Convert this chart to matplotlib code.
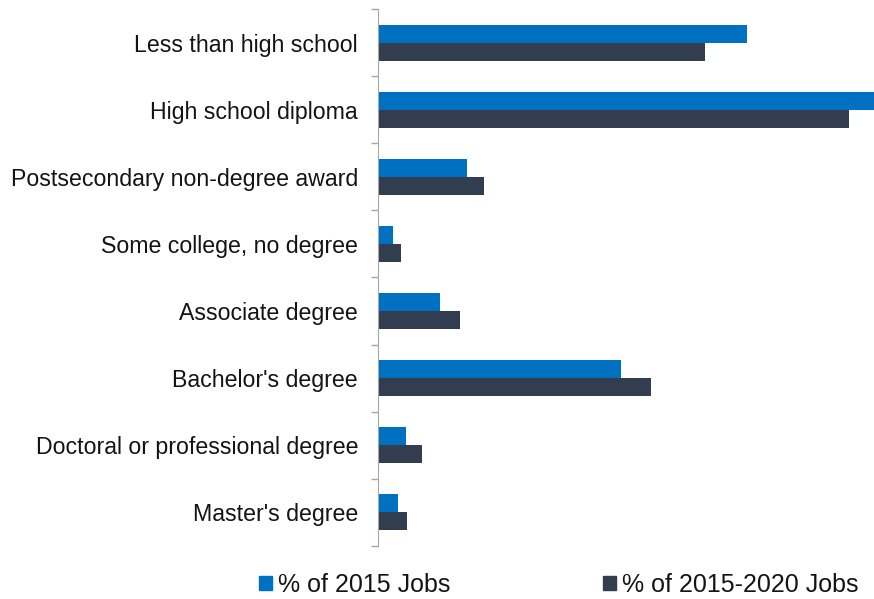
import numpy as np
import matplotlib.pyplot as plt
from matplotlib.patches import Patch

plt.rcParams['font.family'] = ['Liberation Sans', 'DejaVu Sans']

# Typical entry-level education, share of jobs (%)
categories = ['Less than high school', 'High school diploma',
              'Postsecondary non-degree award', 'Some college, no degree',
              'Associate degree', "Bachelor's degree",
              'Doctoral or professional degree', "Master's degree"]
jobs_2015 = [27.2, 38.9, 6.6, 1.1, 4.6, 17.9, 2.1, 1.5]
jobs_2015_2020 = [24.1, 34.7, 7.8, 1.7, 6.1, 20.1, 3.3, 2.2]
series_names = ['% of 2015 Jobs', '% of 2015-2020 Jobs']

blue = '#0070C0'
dark = '#323E4F'

fig = plt.figure(figsize=(8.74, 5.99), dpi=100)
ax = fig.add_axes([0.432, 0.089, 0.568, 0.8955])

y = np.arange(len(categories))
h = 0.273
ax.barh(y - h / 2, jobs_2015, height=h, color=blue)
ax.barh(y + h / 2, jobs_2015_2020, height=h, color=dark)

ax.set_ylim(len(categories) - 0.5, -0.5)
ax.set_xlim(0, 36.55)

ax.set_yticks(y)
ax.set_yticklabels(categories, fontsize=16.7, color='#141414')
ax.tick_params(axis='y', which='major', length=0, pad=14)
ax.set_yticks(np.arange(-0.5, len(categories)), minor=True)
ax.tick_params(axis='y', which='minor', length=5, color='#A6A6A6', width=1)

ax.set_xticks([])
for side in ['top', 'right', 'bottom']:
    ax.spines[side].set_visible(False)
ax.spines['left'].set_color('#A6A6A6')

handles = [Patch(color=blue), Patch(color=dark)]
fig.legend(handles, series_names, loc='center left', bbox_to_anchor=(0.296, 0.0234),
           ncol=2, frameon=False, fontsize=18, handlelength=0.52,
           handleheight=0.52, handletextpad=0.24, columnspacing=6.1,
           borderpad=0, borderaxespad=0, labelcolor='#141414')

fig.savefig('out.png', dpi=100)
